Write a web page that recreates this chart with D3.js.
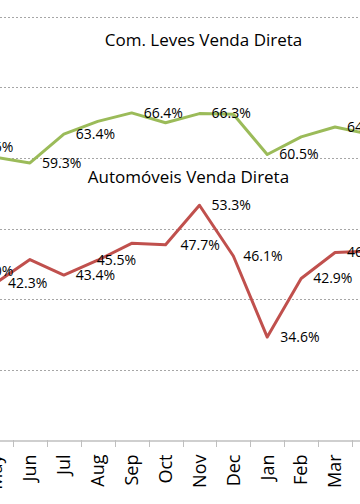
<!DOCTYPE html>
<html><head><meta charset="utf-8">
<script src="https://cdn.jsdelivr.net/npm/d3@7"></script>
<style>
html,body{margin:0;padding:0;background:#fff;overflow:hidden}
svg{display:block;font-family:"Open Sans","Noto Sans",sans-serif}
</style></head>
<body>
<script>
const months = ["Apr","May","Jun","Jul","Aug","Sep","Oct","Nov","Dec","Jan","Feb","Mar","Apr"];
const comLeves = [61.6, 60.1, 59.3, 63.4, 65.2, 66.4, 65.0, 66.3, 66.2, 60.5, 63.0, 64.4, 63.4];
const automoveis = [44.0, 42.3, 45.6, 43.4, 45.5, 47.9, 47.7, 53.3, 46.1, 34.6, 42.9, 46.6, 46.8];
const comLevesShowLabel = [1,0,1,1,0,1,0,1,0,1,0,1,0];
const automoveisShowLabel = [1,1,0,1,1,0,1,1,1,1,1,1,0];
const yTicks = [20, 30, 40, 50, 60, 70, 80];
const titles = ["Com. Leves Venda Direta", "Automóveis Venda Direta"];

// label horizontal offsets (px) — layout only
const greenDx = [12,12,12,12,12,12,12,12,12,12,12,12,12];
const redDx = [12,12,12,12,-1,12,15,12,10,13,12,12,12];

const W = 360, H = 504;
const svg = d3.select("body").append("svg").attr("width", W).attr("height", H);

const idx = months.map((m, i) => i);
const x = d3.scaleBand().domain(idx).range([-54.8, 385.9]).paddingInner(0).paddingOuter(0);
const y = d3.scaleLinear().domain([20, 80]).range([440, 17]);
const cx = i => x(i) + x.bandwidth() / 2;

// gridlines
svg.append("g").selectAll("line").data(yTicks.filter(t => t > 20)).join("line")
  .attr("x1", 0).attr("x2", W)
  .attr("y1", d => Math.round(y(d)) + 0.5).attr("y2", d => Math.round(y(d)) + 0.5)
  .attr("stroke", "#a6a6a6").attr("stroke-width", 1).attr("stroke-dasharray", "2,2");

// x axis
const xAxis = d3.axisBottom(x).tickSize(0).tickFormat(i => months[i]);
const gx = svg.append("g").attr("transform", `translate(0,${Math.round(y(20)) + 0.5})`).call(xAxis);
gx.select(".domain").attr("stroke", "#bfbfbf").attr("stroke-width", 1.5);
gx.selectAll(".tick text")
  .attr("transform", "rotate(-90)")
  .attr("text-anchor", "end")
  .attr("x", -14).attr("y", 0).attr("dy", "0.35em")
  .attr("font-size", 18).attr("fill", "#000")
  .attr("font-family", "'Open Sans','Noto Sans',sans-serif");
// boundary ticks
svg.append("g").selectAll("line").data(idx).join("line")
  .attr("x1", i => Math.round(x(i)) + 0.5).attr("x2", i => Math.round(x(i)) + 0.5)
  .attr("y1", y(20)).attr("y2", y(20) + 7)
  .attr("stroke", "#bfbfbf").attr("stroke-width", 1);

function drawSeries(values, color, show, dxs) {
  const line = d3.line().x((d, i) => cx(i)).y(d => y(d));
  svg.append("path").datum(values).attr("d", line)
    .attr("fill", "none").attr("stroke", color).attr("stroke-width", 3)
    .attr("stroke-linejoin", "round");
  svg.append("g").selectAll("text").data(values.map((v, i) => ({v, i})).filter(d => show[d.i]))
    .join("text")
    .attr("x", d => cx(d.i) + dxs[d.i]).attr("y", d => y(d.v))
    .attr("dy", "0.35em").attr("font-size", 14).attr("fill", "#000")
    .text(d => d.v.toFixed(1) + "%");
}
drawSeries(comLeves, "#9bbb59", comLevesShowLabel, greenDx);
drawSeries(automoveis, "#c0504d", automoveisShowLabel, redDx);

svg.append("text").attr("x", 203.5).attr("y", 46).attr("text-anchor", "middle")
  .attr("font-size", 17).attr("fill", "#000").text(titles[0]);
svg.append("text").attr("x", 188.5).attr("y", 183).attr("text-anchor", "middle")
  .attr("font-size", 17).attr("fill", "#000").text(titles[1]);
</script>
</body></html>
